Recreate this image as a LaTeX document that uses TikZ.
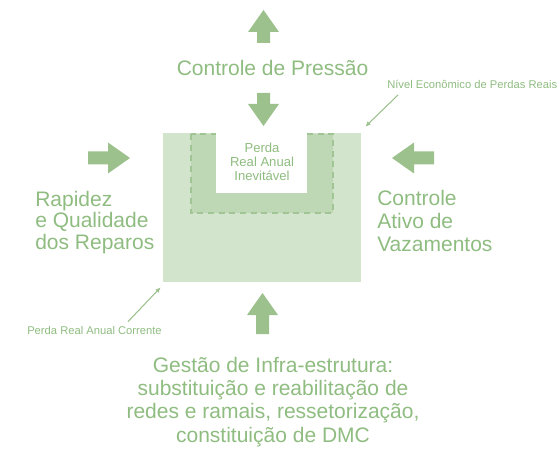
\documentclass[tikz,border=0pt]{standalone}
\usepackage{fontspec}
\setmainfont{Liberation Sans}
\usepackage{xcolor}
\usepackage{tikz}
\usetikzlibrary{arrows.meta}

\definecolor{verde}{RGB}{156,193,141}
\definecolor{verdetexto}{RGB}{143,188,128}
\definecolor{verdeclaro}{RGB}{211,228,204}
\definecolor{verdemedio}{RGB}{190,215,181}
\definecolor{verdetraco}{RGB}{160,196,148}

\begin{document}
\begin{tikzpicture}[x=0.75pt,y=-0.75pt,
		texto/.style={inner sep=0pt, text=verdetexto, font=\fontsize{15.75}{17.5}\selectfont},
		rotulo/.style={inner sep=0pt, text=verdetexto, font=\fontsize{8.4}{10}\selectfont},
		fina/.style={draw=verde, line width=0.8pt, -{Latex[length=4pt,width=3.5pt]}},
		seta/.pic={\fill[verde] (0,0) -- (-22,15.5) -- (-22,6.5) -- (-#1,6.5) -- (-#1,-6.5) -- (-22,-6.5) -- (-22,-15.5) -- cycle;}]
			\useasboundingbox (0,0) rectangle (559,459);
			% perdas
			\node[fill=verdeclaro, minimum width=148.5pt, minimum height=111.75pt, inner sep=0pt] (corrente) at (262,207.5) {};
			\filldraw[fill=verdemedio, draw=verdetraco, line width=1.6pt, dash pattern=on 4.5pt off 3.5pt] (191,134) rectangle (333,213);
			\fill[white] (216,133) rectangle (307,193);
			\node[inner sep=0pt, text=verdetexto, align=center, font=\fontsize{9.8}{10.5}\selectfont, anchor=base] (inevitavel) at (262,181) {Perda\\Real Anual\\Inevit\'avel};
			% setas
			\pic[rotate=90] at (263.5,10) {seta=33};
			\pic[rotate=-90] at (263.5,126) {seta=33};
			\pic[rotate=90] at (262.5,293) {seta=41};
			\pic at (130,158) {seta=42};
			\pic[rotate=180] at (392,158) {seta=42};
			% textos
			\node[texto, anchor=base] (pressao) at (272.5,76) {Controle de Pressão};
			\node[texto, anchor=base west, align=left, font=\fontsize{15.75}{16}\selectfont] (reparos) at (35,249) {Rapidez\\e Qualidade\\dos Reparos};
			\node[texto, anchor=base west, align=left, font=\fontsize{15.75}{17.25}\selectfont] (vazamentos) at (377,252) {Controle\\Ativo de\\Vazamentos};
			\node[texto, anchor=base, align=center] (infra) at (273,442) {Gestão de Infra-estrutura:\\substituição e reabilitação de\\redes e ramais, ressetorização,\\constituição de DMC};
			\node[rotulo, anchor=base west] (economico) at (387,89) {Nível Econômico de Perdas Reais};
			\node[rotulo, anchor=base west] (correntetxt) at (27,334) {Perda Real Anual Corrente};
			\draw[fina] ([xshift=8.25pt,yshift=-4.5pt]economico.base west) -- ([xshift=3pt,yshift=4.5pt]corrente.north east);
			\draw[fina] ([xshift=-25.5pt,yshift=3pt]correntetxt.north east) -- ([xshift=-1.5pt,yshift=-3.75pt]corrente.south west);
		\end{tikzpicture}
\end{document}
